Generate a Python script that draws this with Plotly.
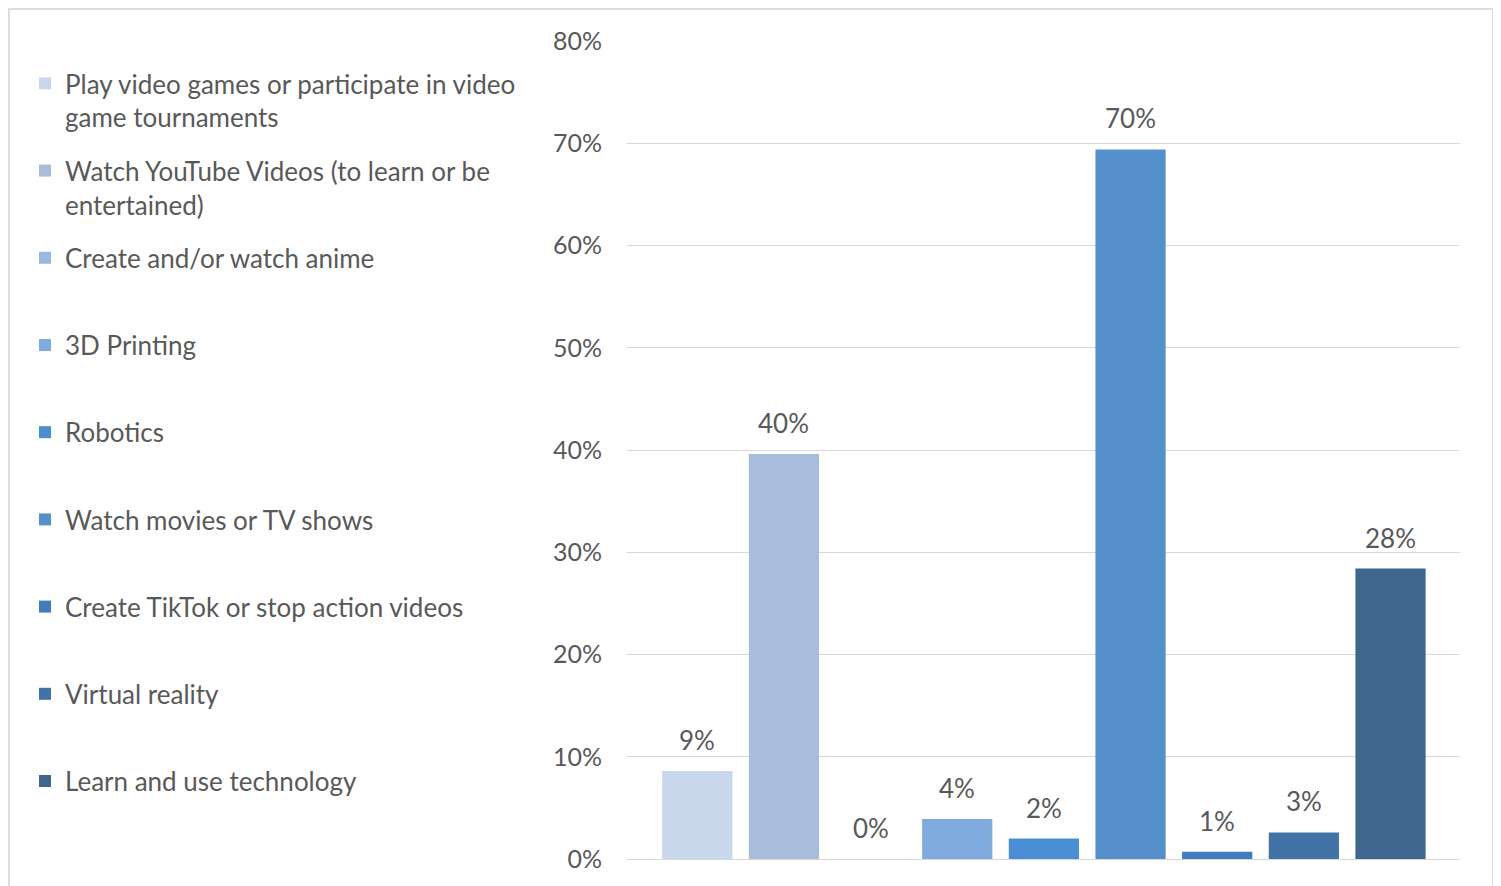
import plotly.graph_objects as go

categories = [
    "Play video games or participate in video<br>game tournaments",
    "Watch YouTube Videos (to learn or be<br>entertained)",
    "Create and/or watch anime",
    "3D Printing",
    "Robotics",
    "Watch movies or TV shows",
    "Create TikTok or stop action videos",
    "Virtual reality",
    "Learn and use technology",
]
values = [8.6, 39.6, 0.0, 3.9, 2.0, 69.4, 0.7, 2.6, 28.4]
labels = ["9%", "40%", "0%", "4%", "2%", "70%", "1%", "3%", "28%"]
colors = ["#c9d7ec", "#a8bcdc", "#9bb9e0", "#7eaade", "#4a8fd6",
          "#5590cc", "#3f7dbf", "#4272a6", "#3e668f"]
y_ticks = [0, 10, 20, 30, 40, 50, 60, 70, 80]
y_tick_labels = ["0%", "10%", "20%", "30%", "40%", "50%", "60%", "70%", "80%"]

W, H = 1487, 878
L, R, T, B = 619, 35, 33, 27
FONT = "Lato"
GRAY = "#595959"

fig = go.Figure()
for i, (name, v, lab, c) in enumerate(zip(categories, values, labels, colors)):
    legend_label = name if "<br>" in name else name + "<br> "
    fig.add_trace(go.Bar(
        x=[i], y=[v], name=legend_label, width=0.81,
        marker=dict(color=c, line=dict(width=0)),
        legendgroup=f"g{i}", hoverinfo="skip",
    ))
    fig.add_annotation(
        x=i, y=v, text=lab, showarrow=False,
        yanchor="middle", yshift=31,
        font=dict(family=FONT, size=26, color=GRAY),
    )

# outer border (bottom edge falls outside the page)
pw = W - L - R
ph = H - T - B
plot_bottom = H - B
fig.add_shape(
    type="rect", xref="paper", yref="paper",
    x0=(0.5 - L) / pw, x1=(W - 1.5 - L) / pw,
    y0=(plot_bottom - 940) / ph, y1=(plot_bottom - 0.5) / ph,
    line=dict(color="#dcdcdc", width=3), fillcolor="rgba(0,0,0,0)", layer="below",
)

fig.update_layout(
    width=W, height=H,
    margin=dict(l=L, r=R, t=T, b=B, pad=0, autoexpand=False),
    paper_bgcolor="white", plot_bgcolor="white",
    barmode="overlay",
    font=dict(family=FONT, color=GRAY),
    showlegend=True,
    legend=dict(
        xref="container", yref="container",
        x=17 / W, y=1 - 52 / H, xanchor="left", yanchor="top",
        traceorder="grouped", tracegroupgap=16.6, valign="top",
        font=dict(family=FONT, size=26, color=GRAY),
        bgcolor="rgba(0,0,0,0)", maxheight=1.0,
        itemclick=False, itemdoubleclick=False,
    ),
    xaxis=dict(
        range=[-0.811, 8.802], showticklabels=False, showgrid=False,
        zeroline=False, showline=False, fixedrange=True,
    ),
    yaxis=dict(
        range=[0, 80], tickvals=y_ticks, ticktext=y_tick_labels,
        showgrid=True, gridcolor="#d9d9d9", gridwidth=1,
        zeroline=True, zerolinecolor="#d9d9d9", zerolinewidth=1,
        showline=False, ticks="outside", ticklen=19, tickcolor="rgba(0,0,0,0)",
        tickfont=dict(family=FONT, size=25, color=GRAY), fixedrange=True,
    ),
)

fig.write_html("out.html")
